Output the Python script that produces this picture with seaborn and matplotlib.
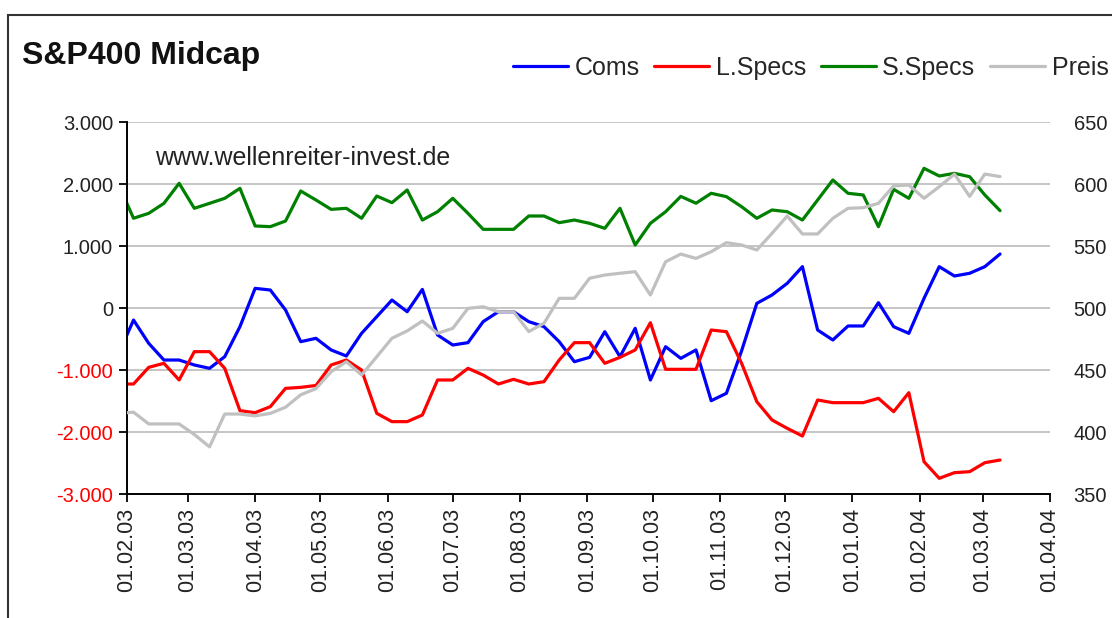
import numpy as np
import pandas as pd
import matplotlib
matplotlib.use("Agg")
import matplotlib.pyplot as plt
import matplotlib.dates as mdates
from matplotlib.patches import Rectangle
import seaborn as sns

# weekly COT data (Tuesday dates), first point lies left of the axis start
dates = pd.date_range("2003-01-28", periods=59, freq="7D")

coms = [-750, -194, -570, -839, -839, -919, -973, -785, -301, 317,
        290, -32, -543, -489, -677, -774, -409, -140, 129, -60,
        300, -435, -597, -559, -220, -60, -60, -220, -301, -543,
        -866, -796, -382, -785, -328, -1161, -624, -812, -677, -1495,
        -1376, -690, 75, 210, 398, 667, -355, -516, -290, -290,
        86, -301, -409, 156, 667, 516, 560, 667, 871]

l_specs = [-1226, -1226, -957, -892, -1161, -704, -704, -973, -1656, -1688,
           -1591, -1296, -1280, -1250, -919, -839, -1000, -1699, -1833, -1833,
           -1726, -1161, -1161, -973, -1081, -1226, -1150, -1226, -1188, -839,
           -559, -559, -892, -796, -677, -237, -989, -989, -989, -355,
           -382, -892, -1511, -1806, -1941, -2065, -1484, -1527, -1527, -1527,
           -1457, -1672, -1366, -2479, -2747, -2656, -2640, -2495, -2452]

s_specs = [2000, 1447, 1527, 1688, 2011, 1608, 1688, 1769, 1930, 1323,
           1312, 1403, 1887, 1742, 1591, 1608, 1447, 1806, 1699, 1903,
           1419, 1553, 1769, 1527, 1269, 1269, 1269, 1484, 1484, 1376,
           1419, 1366, 1285, 1608, 1016, 1366, 1553, 1800, 1690, 1850,
           1796, 1634, 1447, 1581, 1553, 1419, 1742, 2065, 1850, 1823,
           1312, 1914, 1769, 2253, 2129, 2172, 2118, 1823, 1570]

preis = [415, 416, 406.5, 406.5, 406.5, 398, 388, 414.5, 414.5, 413,
         415, 420, 430, 435, 448.6, 456.7, 446, 460.7, 475.6, 481.5,
         489.5, 479.6, 483.6, 499.7, 501, 497, 497, 481, 487.7, 507.8,
         507.8, 524, 526.6, 528, 529.3, 510.5, 537.3, 543.5, 540, 545.4,
         552.7, 550.8, 546.8, 560.2, 574.2, 559.7, 559.7, 572.3, 580.4, 580.9,
         584.4, 598.4, 599.2, 588.5, 597.8, 608, 590, 608, 606]

left_ticks = [-3000, -2000, -1000, 0, 1000, 2000, 3000]
right_ticks = [350, 400, 450, 500, 550, 600, 650]

df = pd.DataFrame({"date": dates, "Coms": coms, "L.Specs": l_specs,
                   "S.Specs": s_specs, "Preis": preis})

sns.set_theme(style="white")
plt.rcParams["font.family"] = ["Liberation Sans", "DejaVu Sans"]

fig = plt.figure(figsize=(11.12, 6.18), dpi=100)
ax = fig.add_axes([127 / 1112, 1 - 494 / 618, 923 / 1112, 372 / 618])
ax2 = ax.twinx()

lw = 2.3
sns.lineplot(data=df, x="date", y="Coms", color="#0000ff", lw=lw, ax=ax, label="Coms", legend=False)
sns.lineplot(data=df, x="date", y="L.Specs", color="#ff0000", lw=lw, ax=ax, label="L.Specs", legend=False)
sns.lineplot(data=df, x="date", y="S.Specs", color="#008000", lw=lw, ax=ax, label="S.Specs", legend=False)
sns.lineplot(data=df, x="date", y="Preis", color="#c0c0c0", lw=lw, ax=ax2, label="Preis", legend=False)

ax.set_xlim(pd.Timestamp("2003-02-01"), pd.Timestamp("2004-04-01"))
ax.set_ylim(-3000, 3000)
ax2.set_ylim(350, 650)

# left axis
ax.set_yticks(left_ticks)
ax.set_yticklabels([f"{v:,.0f}".replace(",", ".") for v in left_ticks])
for lab, v in zip(ax.get_yticklabels(), left_ticks):
    lab.set_color("#ff0000" if v < 0 else "#222222")
ax.yaxis.grid(True, color="#c0c0c0", lw=1.3)
ax.xaxis.grid(False)
ax.tick_params(axis="y", direction="out", length=6, width=1.3, color="black",
               labelsize=14.5, pad=4, left=True)

# x axis (monthly ticks)
ax.xaxis.set_major_locator(mdates.MonthLocator())
ax.xaxis.set_major_formatter(mdates.DateFormatter("%d.%m.%y"))
ax.tick_params(axis="x", direction="out", length=6, width=1.3, color="black",
               labelsize=15.5, labelrotation=90, pad=4, bottom=True, labelcolor="#222222")
ax.set_xlabel("")
ax.set_ylabel("")

# right axis
ax2.set_yticks(right_ticks)
ax2.tick_params(axis="y", length=0, pad=17, labelsize=14.5, labelcolor="#222222")
ax2.set_ylabel("")
ax2.grid(False)

for a in (ax, ax2):
    for s in a.spines.values():
        s.set_visible(False)
ax.spines["left"].set_visible(True)
ax.spines["bottom"].set_visible(True)
ax.spines["left"].set_color("black")
ax.spines["bottom"].set_color("black")
ax.spines["left"].set_linewidth(1.4)
ax.spines["bottom"].set_linewidth(1.4)

# title, watermark, legend
fig.text(22 / 1112, 1 - 56 / 618, "S&P400 Midcap", fontsize=23, fontweight="bold",
         va="center", ha="left", color="#111111")
fig.text(155 / 1112, 1 - 158 / 618, "www.wellenreiter-invest.de", fontsize=18,
         va="center", ha="left", color="#222222")

handles = ax.get_lines()[:3] + ax2.get_lines()[:1]
labels = ["Coms", "L.Specs", "S.Specs", "Preis"]
fig.legend(handles, labels, loc="center left", bbox_to_anchor=(513 / 1112, 1 - 68 / 618),
           ncol=4, frameon=False, fontsize=18, handlelength=2.2, handletextpad=0.25,
           columnspacing=0.6, borderpad=0, borderaxespad=0)

# outer chart frame (cut at right and bottom)
fig.patches.append(Rectangle((8 / 1112, -0.05), 1.1, 1 - 15 / 618 + 0.05,
                             transform=fig.transFigure, fill=False,
                             edgecolor="#333333", lw=1.5))

fig.savefig("out.png", dpi=100)
